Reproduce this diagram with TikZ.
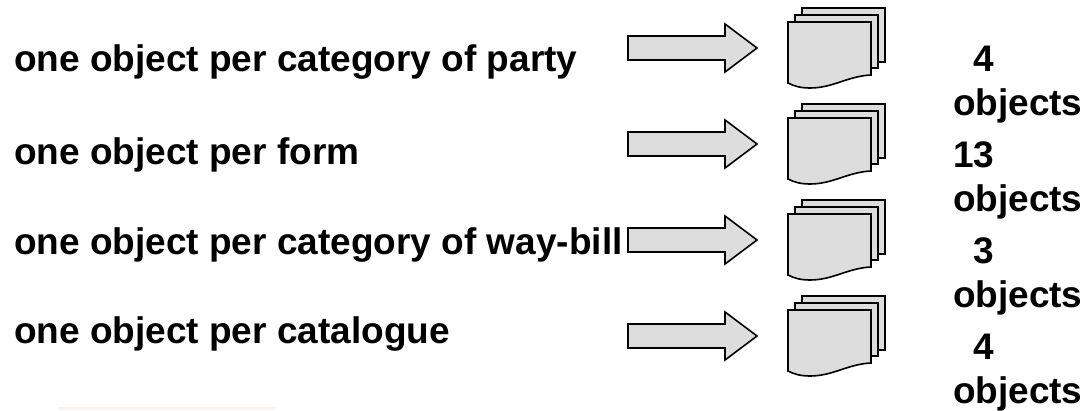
\documentclass[tikz,border=0pt]{standalone}
\usepackage{fontspec}
\setmainfont{Liberation Sans}
\usetikzlibrary{calc}
\definecolor{shapegray}{HTML}{DDDDDD}
\definecolor{smudge}{HTML}{FFF1EA}
\tikzset{
  x=1pt,y=-1pt,
  shp/.style={draw=black,fill=shapegray,line width=1.6pt,line join=miter},
  lab/.style={anchor=base west,inner sep=0pt,outer sep=0pt,font=\fontsize{37}{37}\selectfont\bfseries,text=black},
  pics/sheet/.style={code={
    \draw[shp] (0,0) -- (83,0) -- (83,53) .. controls (60,54) and (45,66) .. (22,66) .. controls (12,66) and (6,64) .. (0,61) -- cycle;
  }},
  pics/bigarrow/.style={code={
    \draw[shp] (0,-12) -- (97,-12) -- (97,-24) -- (129,0) -- (97,24) -- (97,12) -- (0,12) -- cycle;
  }},
  pics/stack/.style={code={
    \draw[shp] (14,-14) -- (97,-14) -- (97,40) -- (14,40) -- cycle;
    \draw[shp] (7,-7) -- (90,-7) -- (90,46) -- (7,46) -- cycle;
    \pic at (0,0) {sheet};
  }},
}
\begin{document}
\begin{tikzpicture}
\useasboundingbox (0,0) rectangle (1085,410);
\fill[smudge] (58,407) rectangle (275,410);
\foreach \n/\y in {1/48,2/144,3/240,4/336}{
  \pic at (628,\y) {bigarrow};
  \pic at (788,\y-26) {stack};
}
\node[lab] (t1) at (14,71) {one object per category of party};
\node[lab] (t2) at (14,164) {one object per form};
\node[lab] (t3) at (14,254) {one object per category of way-bill};
\node[lab] (t4) at (14,343) {one object per catalogue};
\node[lab] (n1) at (973,71) {4};
\node[lab] (o1) at (953,115) {objects};
\node[lab] (n2) at (953,167) {13};
\node[lab] (o2) at (953,211) {objects};
\node[lab] (n3) at (973,263) {3};
\node[lab] (o3) at (953,307) {objects};
\node[lab] (n4) at (973,359) {4};
\node[lab] (o4) at (953,403) {objects};
\end{tikzpicture}
\end{document}
